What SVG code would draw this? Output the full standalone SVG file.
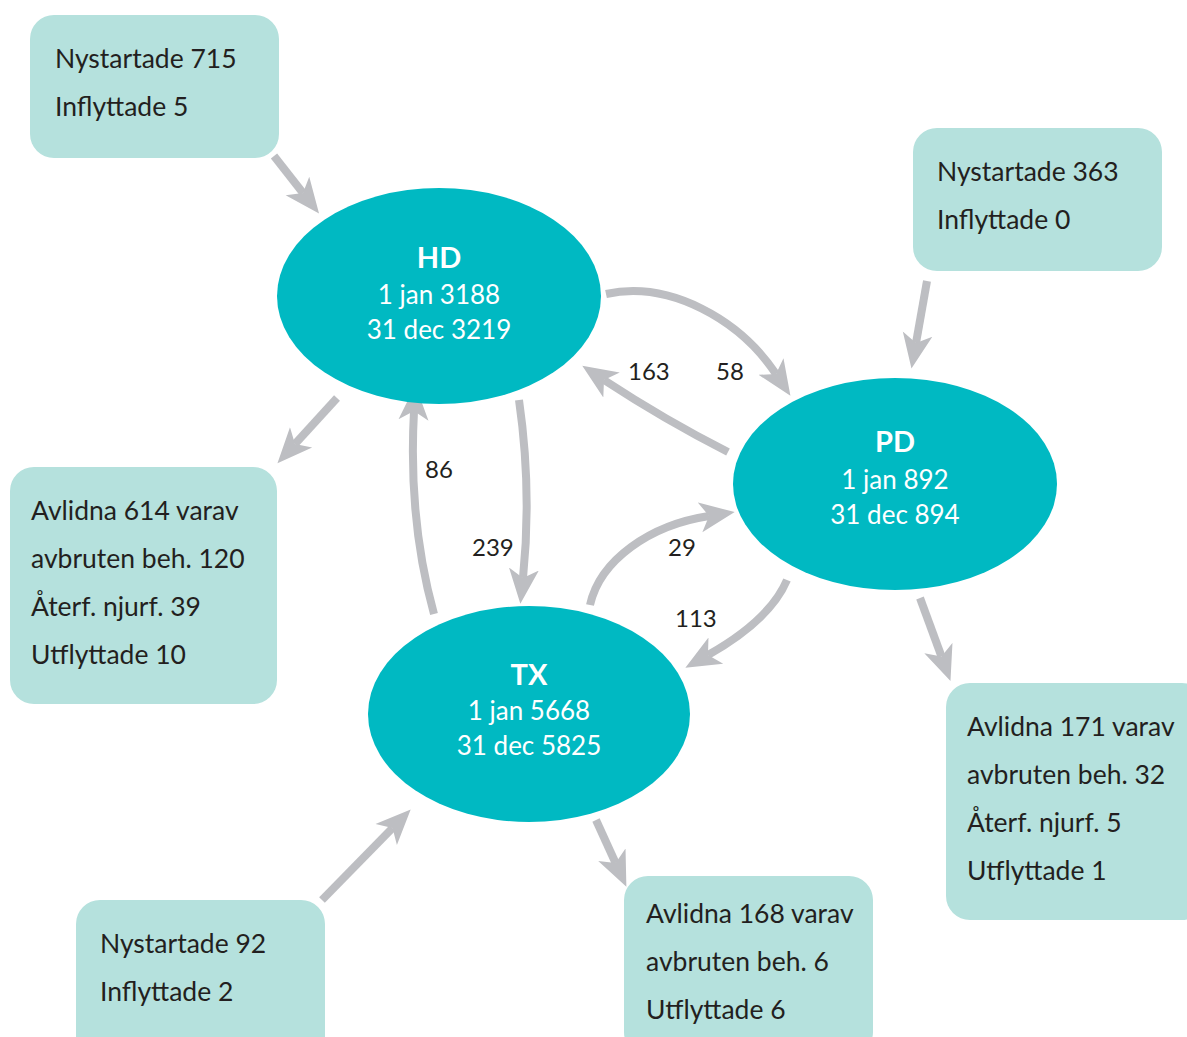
<svg xmlns="http://www.w3.org/2000/svg" width="1187" height="1037" viewBox="0 0 1187 1037">
<style>
.box{fill:#b5e1dd}
.ell{fill:#00b9c2}
.t{font-family:Lato,"Open Sans","Liberation Sans",sans-serif;font-size:26.5px;fill:#231f20}
.n{font-family:Lato,"Open Sans","Liberation Sans",sans-serif;font-size:24px;fill:#231f20}
.w{font-family:Lato,"Open Sans","Liberation Sans",sans-serif;font-size:26px;fill:#ffffff;text-anchor:middle}
.b{font-weight:bold;font-size:29px}
.arr{fill:none;stroke:#bdbec2;stroke-width:8}
</style>
<defs>
<marker id="ah" markerUnits="userSpaceOnUse" viewBox="0 -16 36 32" refX="9" refY="0" markerWidth="36" markerHeight="32" orient="auto">
<path d="M0,-15 L35,0 L0,15 L9,0 Z" fill="#bdbec2"/>
</marker>
</defs>
<rect width="1187" height="1037" fill="#ffffff"/>
<g id="connectors">
<path class="arr" marker-end="url(#ah)" d="M274,156 L303,193"/>
<path class="arr" marker-end="url(#ah)" d="M927,281 L916,343"/>
<path class="arr" marker-end="url(#ah)" d="M337,398 L295,444"/>
<path class="arr" marker-end="url(#ah)" d="M606,294 C670,280 740,320 776,374"/>
<path class="arr" marker-end="url(#ah)" d="M728,452 Q665,420 604,380"/>
<path class="arr" marker-end="url(#ah)" d="M519,400 Q532,490 523,578"/>
<path class="arr" marker-end="url(#ah)" d="M434,614 Q408,520 414,411"/>
<path class="arr" marker-end="url(#ah)" d="M590,605 C600,560 650,525 709,516"/>
<path class="arr" marker-end="url(#ah)" d="M787,580 Q770,620 708,655"/>
<path class="arr" marker-end="url(#ah)" d="M920,598 L941.5,656.5"/>
<path class="arr" marker-end="url(#ah)" d="M322,900 L392.5,828"/>
<path class="arr" marker-end="url(#ah)" d="M596,820 L615.6,863"/>
<text class="n" x="628" y="380">163</text>
<text class="n" x="716" y="380">58</text>
<text class="n" x="425" y="478">86</text>
<text class="n" x="472" y="556">239</text>
<text class="n" x="668" y="556">29</text>
<text class="n" x="675" y="627">113</text>
</g>
<g id="box-hd-in">
<rect class="box" x="30" y="15" width="249" height="143" rx="24"/>
<text class="t" x="55" y="68">Nystartade 715</text>
<text class="t" x="55" y="116">Inflyttade 5</text>
</g>
<g id="box-pd-in">
<rect class="box" x="913" y="128" width="249" height="143" rx="24"/>
<text class="t" x="937" y="181">Nystartade 363</text>
<text class="t" x="937" y="229">Inflyttade 0</text>
</g>
<g id="box-hd-out">
<rect class="box" x="10" y="467" width="267" height="237" rx="24"/>
<text class="t" x="31" y="520">Avlidna 614 varav</text>
<text class="t" x="31" y="568">avbruten beh. 120</text>
<text class="t" x="31" y="616">Återf. njurf. 39</text>
<text class="t" x="31" y="664">Utflyttade 10</text>
</g>
<g id="box-pd-out">
<rect class="box" x="946" y="683" width="260" height="237" rx="24"/>
<text class="t" x="967" y="736">Avlidna 171 varav</text>
<text class="t" x="967" y="784">avbruten beh. 32</text>
<text class="t" x="967" y="832">Återf. njurf. 5</text>
<text class="t" x="967" y="880">Utflyttade 1</text>
</g>
<g id="box-tx-in">
<rect class="box" x="76" y="900" width="249" height="160" rx="24"/>
<text class="t" x="100" y="953">Nystartade 92</text>
<text class="t" x="100" y="1001">Inflyttade 2</text>
</g>
<g id="box-tx-out">
<rect class="box" x="624" y="876" width="249" height="180" rx="24"/>
<text class="t" x="646" y="923">Avlidna 168 varav</text>
<text class="t" x="646" y="971">avbruten beh. 6</text>
<text class="t" x="646" y="1019">Utflyttade 6</text>
</g>
<g id="node-hd">
<ellipse class="ell" cx="439" cy="296" rx="162" ry="108"/>
<text class="w b" x="439" y="268">HD</text>
<text class="w" x="439" y="304">1 jan 3188</text>
<text class="w" x="439" y="339">31 dec 3219</text>
</g>
<g id="node-pd">
<ellipse class="ell" cx="895" cy="484" rx="162" ry="106"/>
<text class="w b" x="895" y="452">PD</text>
<text class="w" x="895" y="489">1 jan 892</text>
<text class="w" x="895" y="524">31 dec 894</text>
</g>
<g id="node-tx">
<ellipse class="ell" cx="529" cy="714" rx="161" ry="108"/>
<text class="w b" x="529" y="685">TX</text>
<text class="w" x="529" y="720">1 jan 5668</text>
<text class="w" x="529" y="755">31 dec 5825</text>
</g>
</svg>
